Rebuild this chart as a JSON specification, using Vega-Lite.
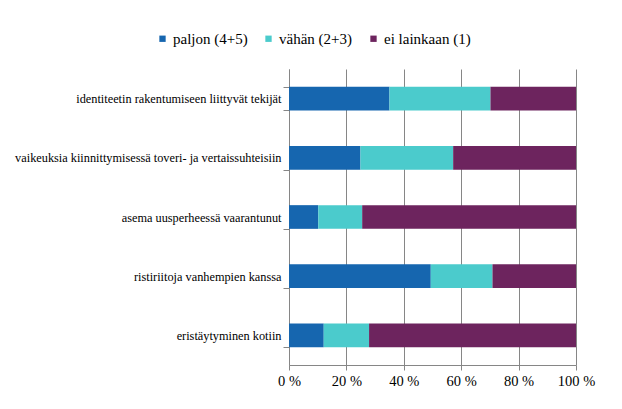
{
  "$schema": "https://vega.github.io/schema/vega-lite/v6.json",
  "width": 287,
  "height": 296,
  "autosize": "none",
  "padding": {"left": 289, "top": 69, "right": 46, "bottom": 44},
  "background": "white",
  "data": {
    "values": [
      {"item": "identiteetin rakentumiseen liittyvät tekijät", "group": "paljon (4+5)", "k": 1, "value": 35.0},
      {"item": "identiteetin rakentumiseen liittyvät tekijät", "group": "vähän (2+3)", "k": 2, "value": 35.2},
      {"item": "identiteetin rakentumiseen liittyvät tekijät", "group": "ei lainkaan (1)", "k": 3, "value": 29.8},
      {"item": "vaikeuksia kiinnittymisessä toveri- ja vertaissuhteisiin", "group": "paljon (4+5)", "k": 1, "value": 24.9},
      {"item": "vaikeuksia kiinnittymisessä toveri- ja vertaissuhteisiin", "group": "vähän (2+3)", "k": 2, "value": 32.3},
      {"item": "vaikeuksia kiinnittymisessä toveri- ja vertaissuhteisiin", "group": "ei lainkaan (1)", "k": 3, "value": 42.8},
      {"item": "asema uusperheessä vaarantunut", "group": "paljon (4+5)", "k": 1, "value": 10.2},
      {"item": "asema uusperheessä vaarantunut", "group": "vähän (2+3)", "k": 2, "value": 15.3},
      {"item": "asema uusperheessä vaarantunut", "group": "ei lainkaan (1)", "k": 3, "value": 74.5},
      {"item": "ristiriitoja vanhempien kanssa", "group": "paljon (4+5)", "k": 1, "value": 49.4},
      {"item": "ristiriitoja vanhempien kanssa", "group": "vähän (2+3)", "k": 2, "value": 21.5},
      {"item": "ristiriitoja vanhempien kanssa", "group": "ei lainkaan (1)", "k": 3, "value": 29.1},
      {"item": "eristäytyminen kotiin", "group": "paljon (4+5)", "k": 1, "value": 12.1},
      {"item": "eristäytyminen kotiin", "group": "vähän (2+3)", "k": 2, "value": 15.8},
      {"item": "eristäytyminen kotiin", "group": "ei lainkaan (1)", "k": 3, "value": 72.1}
    ]
  },
  "mark": {"type": "bar"},
  "encoding": {
    "y": {
      "field": "item",
      "type": "nominal",
      "sort": null,
      "scale": {"paddingInner": 0.6, "paddingOuter": 0.3},
      "axis": {
        "title": null,
        "tickBand": "extent",
        "domainColor": "#868686",
        "tickColor": "#868686",
        "tickSize": 6,
        "labelPadding": 2,
        "labelFontSize": 12.3,
        "labelColor": "#000000",
        "labelLimit": 400
      }
    },
    "x": {
      "field": "value",
      "type": "quantitative",
      "stack": "zero",
      "scale": {"domain": [0, 100], "nice": false},
      "axis": {
        "title": null,
        "values": [0, 20, 40, 60, 80, 100],
        "labelExpr": "datum.value + ' %'",
        "grid": true,
        "gridColor": "#868686",
        "domainColor": "#868686",
        "tickColor": "#868686",
        "tickSize": 5,
        "labelPadding": 4,
        "labelFontSize": 14.5,
        "labelColor": "#000000",
        "labelFlush": false
      }
    },
    "color": {
      "field": "group",
      "type": "nominal",
      "sort": ["paljon (4+5)", "vähän (2+3)", "ei lainkaan (1)"],
      "scale": {
        "domain": ["paljon (4+5)", "vähän (2+3)", "ei lainkaan (1)"],
        "range": ["#1666AF", "#4BCBCC", "#6D245E"]
      },
      "legend": {
        "title": null,
        "orient": "none",
        "direction": "horizontal",
        "legendX": -134,
        "legendY": -38,
        "padding": 0,
        "symbolType": "square",
        "symbolSize": 40,
        "symbolStrokeWidth": 0,
        "labelOffset": 3,
        "columnPadding": 13,
        "labelFontSize": 15,
        "labelColor": "#000000"
      }
    },
    "order": {"field": "k", "type": "quantitative"}
  },
  "config": {
    "view": {"stroke": null},
    "font": "Liberation Serif",
    "axis": {"labelFont": "Liberation Serif"},
    "legend": {"labelFont": "Liberation Serif"}
  }
}
